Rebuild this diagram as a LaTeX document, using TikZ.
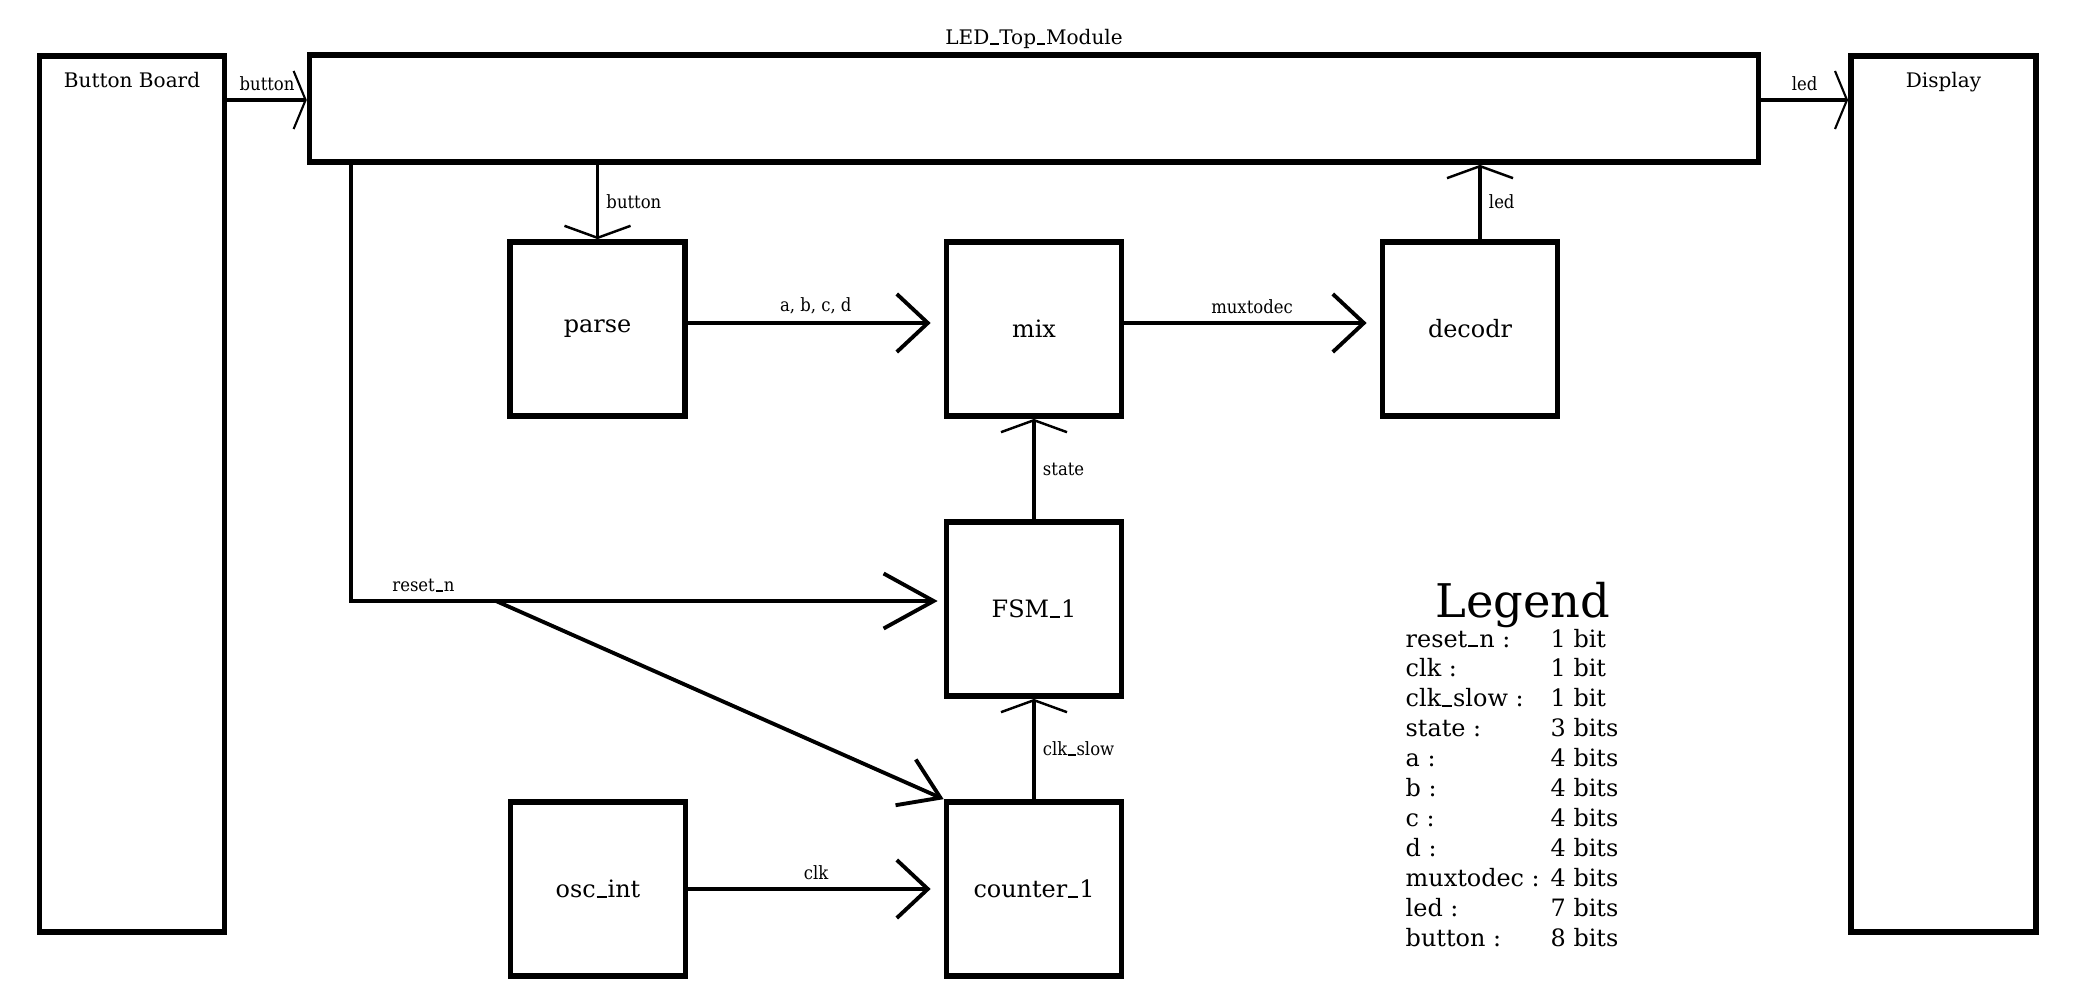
\documentclass[tikz,border=0pt]{standalone}
\usepackage{fontspec}
\setmainfont{DejaVu Serif}
\newfontfamily\condfont{DejaVu Serif Condensed}
\usetikzlibrary{arrows.meta,calc,positioning}
\newcommand{\usc}{\kern.04em\rule{.42em}{.14ex}\kern.04em}

\begin{document}
\begin{tikzpicture}[x=0.01cm,y=-0.01cm,
    blk/.style={draw,line width=1.6pt,minimum width=1.75cm,minimum height=1.74cm,font=\fontsize{6.8}{8}\selectfont},
    board/.style={draw,line width=1.6pt,minimum width=1.85cm,minimum height=8.76cm},
    boardtxt/.style={font=\fontsize{5.7}{7}\selectfont},
    legtxt/.style={font=\fontsize{6.8}{8}\selectfont,inner sep=0pt,anchor=base west},
    wire/.style={line width=1.1pt},
    sig/.style={font=\condfont\fontsize{5.2}{6}\selectfont,inner sep=2pt},
    bigtip/.style={-{Straight Barb[length=0.31cm,width=0.58cm]},shorten >=0.13cm},
    resettip/.style={-{Straight Barb[length=0.5cm,width=0.55cm]},shorten >=0.06cm},
    diagtip/.style={-{Straight Barb[length=0.38cm,width=0.5cm]}},
    smalltip/.style={-{Straight Barb[length=0.12cm,width=0.66cm,line width=0.7pt]}},
    sidetip/.style={-{Straight Barb[length=0.12cm,width=0.58cm,line width=0.6pt]}}]
  \useasboundingbox (0,0) rectangle (2100,1000);
  % boards and top module
  \node[board,label={[boardtxt,anchor=north,yshift=-0.07cm]north:Button Board}] (bboard) at (132,494) {};
  \node[board,label={[boardtxt,anchor=north,yshift=-0.07cm]north:Display}] (display) at (1943.5,494) {};
  \node[draw,line width=1.6pt,minimum width=14.48cm,minimum height=1.07cm,
        label={[boardtxt,yshift=-0.09cm]above:LED\usc Top\usc Module}] (top) at (1034,108.5) {};
  % sub modules
  \node[blk] (parse) at (597.5,329) {parse};
  \node[blk] (mix) at (1034,329) {mix};
  \node[blk] (decodr) at (1470,329) {decodr};
  \node[blk] (fsm) at (1034,609) {FSM\usc 1};
  \node[blk] (osc) at (598,889) {osc\usc int};
  \node[blk] (counter) at (1034,889) {counter\usc 1};
  % wires
  \coordinate (btnrow) at (0,100);
  \coordinate (datarow) at (0,323);
  \draw[wire,sidetip] (bboard.east |- btnrow) -- (top.west |- btnrow) node[midway,above,sig]{button};
  \draw[wire,sidetip] (top.east |- btnrow) -- (display.west |- btnrow) node[midway,above,sig]{led};
  \draw[wire,smalltip] (top.south -| parse) -- (parse.north) node[midway,right,sig]{button};
  \coordinate (ledtap) at ([xshift=0.1cm]decodr.north);
  \draw[wire,smalltip] (ledtap) -- (ledtap |- top.south) node[midway,right,sig]{led};
  \draw[wire,bigtip] (parse.east |- datarow) -- (mix.west |- datarow) node[midway,above,sig]{a, b, c, d};
  \draw[wire,bigtip] (mix.east |- datarow) -- (decodr.west |- datarow) node[midway,above,sig]{muxtodec};
  \draw[wire,smalltip] (fsm) -- (mix) node[midway,right,sig]{state};
  \draw[wire,smalltip] (counter) -- (fsm) node[midway,right,sig]{clk\usc slow};
  \draw[wire,bigtip] (osc) -- (counter) node[midway,above,sig]{clk};
  % reset_n
  \coordinate (rcorner) at (351,601);
  \coordinate (rsplit) at (496,601);
  \draw[wire] (top.south -| rcorner) -- (rcorner) -- (rsplit) node[midway,above,sig]{reset\usc n};
  \draw[wire,resettip] (rsplit) -- (rsplit -| fsm.west);
  \draw[wire,diagtip] (rsplit) -- (counter.north west);
  % legend
  \node[font=\fontsize{13.2}{15}\selectfont,anchor=base] (legend) at (1523,617) {Legend};
  \foreach \nm/\bt [count=\i from 0] in {reset\usc n/1 bit,clk/1 bit,clk\usc slow/1 bit,state/3 bits,
      a/4 bits,b/4 bits,c/4 bits,d/4 bits,muxtodec/4 bits,led/7 bits,button/8 bits}{
    \node[legtxt] (leg\i) at (1405,{647+29.9*\i}) {\nm{} :};
    \node[legtxt] (bits\i) at (1550,{647+29.9*\i}) {\bt};
  }
\end{tikzpicture}
\end{document}
